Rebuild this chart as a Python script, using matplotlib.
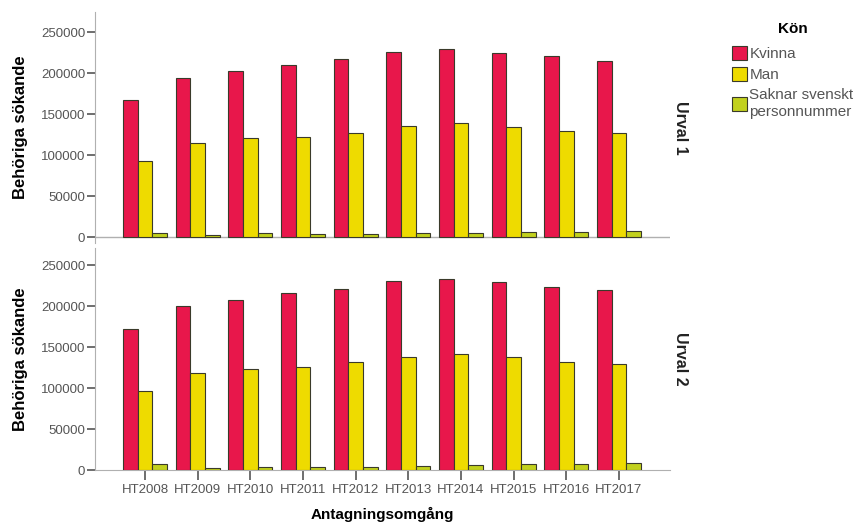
import matplotlib.pyplot as plt
import numpy as np

plt.rcParams['font.family'] = ['Liberation Sans', 'DejaVu Sans']

# data
years = ['HT2008', 'HT2009', 'HT2010', 'HT2011', 'HT2012',
         'HT2013', 'HT2014', 'HT2015', 'HT2016', 'HT2017']
groups = ['Kvinna', 'Man', 'Saknar svenskt\npersonnummer']
colors = ['#E8174B', '#EEDB00', '#C2D11E']

urval1_kvinna = [168000, 195000, 202500, 210000, 218000, 226000, 230000, 224500, 221000, 215500]
urval1_man = [93000, 115500, 121000, 122500, 127500, 136000, 139000, 135000, 130000, 127000]
urval1_saknar = [5700, 3300, 5000, 3500, 3500, 5000, 5000, 6000, 6500, 7200]

urval2_kvinna = [172000, 200000, 208000, 216500, 221500, 230500, 233500, 229500, 224000, 220000]
urval2_man = [96000, 118500, 123500, 125500, 132000, 138000, 142000, 137500, 132000, 129500]
urval2_saknar = [7700, 3000, 4000, 3500, 3500, 4900, 6500, 7300, 7300, 8200]

panels = [('Urval 1', [urval1_kvinna, urval1_man, urval1_saknar]),
          ('Urval 2', [urval2_kvinna, urval2_man, urval2_saknar])]

fig = plt.figure(figsize=(8.64, 5.23), dpi=100)
ax1 = fig.add_axes([0.110, 0.5354, 0.6655, 0.4417])
ax2 = fig.add_axes([0.110, 0.1013, 0.6655, 0.4245])

x = np.arange(len(years))
w = 0.28
axis_grey = '#B0B0B0'

for ax, (name, series) in zip([ax1, ax2], panels):
    for i, vals in enumerate(series):
        ax.bar(x + (i - 1) * w, vals, w, color=colors[i], edgecolor='#3a3a2a',
               linewidth=0.8, label=groups[i], zorder=3)
    ax.set_xlim(-0.95, 9.97)
    ax.set_yticks([0, 50000, 100000, 150000, 200000, 250000])
    ax.tick_params(axis='y', labelsize=9.5, labelcolor='#555555', length=6,
                   width=1.2, color='#555555', pad=1)
    for s in ['top', 'right']:
        ax.spines[s].set_visible(False)
    ax.spines['left'].set_color(axis_grey)
    ax.spines['bottom'].set_color(axis_grey)
    ax.set_ylabel('Behöriga sökande', fontsize=12, fontweight='bold')
    ax.yaxis.set_label_coords(-0.116, 0.5)
    ax.text(1.006, 0.5, name, transform=ax.transAxes, rotation=-90,
            fontsize=11.5, fontweight='bold', ha='left', va='center', color='#222222')

ax1.set_ylim(-7000, 275000)
ax1.spines['bottom'].set_visible(False)
ax1.axhline(0, color=axis_grey, linewidth=1, zorder=2)
ax1.set_xticks([])

ax2.set_ylim(0, 271000)
ax2.set_xticks(x)
ax2.set_xticklabels(years)
ax2.tick_params(axis='x', labelsize=9.5, labelcolor='#555555', length=7,
                width=1.2, color='#555555', pad=3)
ax2.set_xlabel('Antagningsomgång', fontsize=11, fontweight='bold', labelpad=8)

handles, labels = ax1.get_legend_handles_labels()
leg = fig.legend(handles, labels, loc='upper left', bbox_to_anchor=(0.847, 0.912),
                 frameon=False, fontsize=11, handlelength=1.0,
                 handleheight=1.0, handletextpad=0.15, labelspacing=0.4,
                 borderpad=0, borderaxespad=0)
for t in leg.get_texts():
    t.set_color('#555555')
fig.text(0.918, 0.944, 'Kön', fontsize=11, fontweight='bold', ha='center', va='center')

fig.savefig('out.png', dpi=100)
